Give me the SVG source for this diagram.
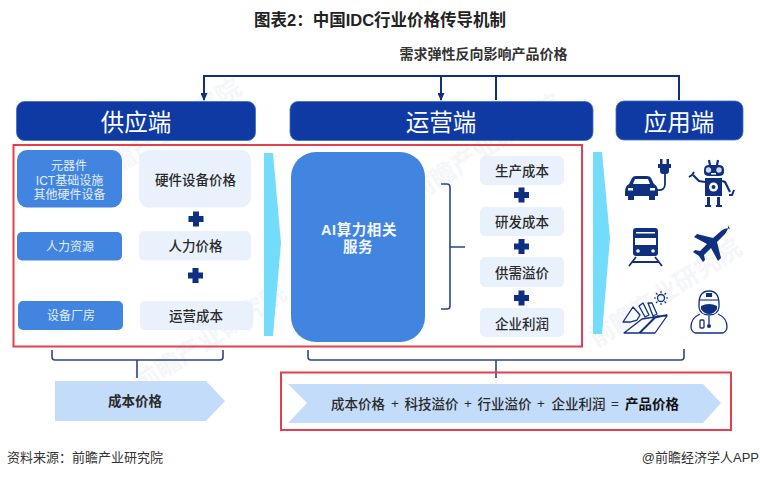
<svg xmlns="http://www.w3.org/2000/svg" width="760" height="478" viewBox="0 0 760 478">
<style>
text{font-family:"Liberation Sans","Noto Sans CJK SC",sans-serif;text-anchor:middle}
.hdr{fill:#0f3aa4;stroke:#3f6fc4;stroke-width:.8}
.hdrt{fill:#fff;font-size:23.5px}
.bb{fill:#4285e0}
.bt{fill:#e3eefb;font-size:12px}
.lb{fill:#e9f1fc}
.lt{fill:#2a2a2a;font-size:13.5px;font-weight:500}
.red{fill:none;stroke:#e2404e;stroke-width:2}
.con{fill:none;stroke:#0f2f80;stroke-width:2}
.brk{fill:none;stroke:#27468f;stroke-width:1.6}
.cy{fill:#74dcfb}
.pl{fill:#0f2f80}
.pale{fill:#c3dcfa}
.ic{fill:#0f2f80}
.ico{fill:none;stroke:#0f2f80;stroke-width:1.3;stroke-linejoin:round}
.eq{fill:#2a2a2a;font-size:13.5px;font-weight:500}
.wm{fill:#b9c3d0;opacity:.14;font-size:25px;font-weight:700}
</style>
<defs>
<marker id="ah" markerWidth="8" markerHeight="7" refX="7" refY="3.5" orient="auto" markerUnits="userSpaceOnUse"><path d="M0 0L8 3.5L0 7z" fill="#0f2f80"/></marker>
<path id="plus" d="M-3-7.5h6v4.500h4.500v6h-4.500v4.500h-6v-4.500h-4.500v-6h4.500z"/>
</defs>
<rect width="760" height="478" fill="#fff"/>

<g id="watermarks">
<text class="wm" transform="translate(215 345) rotate(-33)">前瞻产业研究院</text>
<text class="wm" transform="translate(490 155) rotate(-33)">前瞻产业研究院</text>
<text class="wm" transform="translate(670 300) rotate(-33)">前瞻产业研究院</text>
<text class="wm" transform="translate(170 140) rotate(-33)">前瞻产业研究院</text>
</g>

<text id="title" x="380" y="26" style="font-size:16.5px;font-weight:700;fill:#222">图表2：中国IDC行业价格传导机制</text>
<text id="feedback-label" x="483.500" y="59" style="font-size:14px;font-weight:700;fill:#333">需求弹性反向影响产品价格</text>

<g id="connectors">
<path class="con" d="M679 100V76H204V100" marker-end="url(#ah)"/>
<path class="con" d="M441 76V100" marker-end="url(#ah)"/>
<path class="con" d="M496 76V100"/>
<path class="brk" d="M52 350v7q0 3 3 3H220q3 0 3-3v-7M137 360v18"/>
<path class="brk" d="M308 350v7q0 3 3 3H681q3 0 3-3v-8M496 360v18"/>
<path class="brk" d="M441 184h6q3 0 3 3V306q0 3-3 3h-6M450 247h15"/>
</g>

<g id="supply-header"><rect class="hdr" x="16.500" y="101.500" width="239" height="39" rx="8"/><text class="hdrt" x="136" y="131">供应端</text></g>
<g id="ops-header"><rect class="hdr" x="290" y="101.500" width="303" height="39" rx="8"/><text class="hdrt" x="441" y="131">运营端</text></g>
<g id="app-header"><rect class="hdr" x="616" y="101" width="127" height="39" rx="8"/><text class="hdrt" x="679" y="131">应用端</text></g>

<rect id="red-frame-top" class="red" x="13.500" y="145" width="568.500" height="201.500"/>
<rect id="red-frame-bottom" class="red" x="281" y="372.500" width="450" height="57.500"/>

<g id="component-box"><rect class="bb" x="17" y="150" width="105" height="57.500" rx="10"/>
<text class="bt" x="69" y="170">元器件</text><text class="bt" x="69.500" y="185">ICT基础设施</text><text class="bt" x="69.500" y="199">其他硬件设备</text></g>
<g id="labor-box"><rect class="bb" x="17" y="232" width="105" height="28.500" rx="5"/><text class="bt" x="70" y="251">人力资源</text></g>
<g id="plant-box"><rect class="bb" x="18" y="301" width="105" height="29" rx="5"/><text class="bt" x="71" y="320">设备厂房</text></g>

<g id="hw-price"><rect class="lb" x="139" y="150" width="112" height="57.500" rx="10"/><text class="lt" x="195.500" y="185">硬件设备价格</text></g>
<g id="labor-price"><rect class="lb" x="139" y="231" width="112" height="29.500" rx="5"/><text class="lt" x="195.500" y="251">人力价格</text></g>
<g id="opex"><rect class="lb" x="140" y="301" width="113" height="29" rx="5"/><text class="lt" x="196" y="321">运营成本</text></g>
<use href="#plus" class="pl" x="196" y="219"/>
<use href="#plus" class="pl" x="195.500" y="275.500"/>

<path id="arrow-1" class="cy" d="M264 153H273L281 243L273 336H264z"/>
<path id="arrow-2" class="cy" d="M593 152H602L610 238L602 334H593z"/>

<g id="ai-service"><rect class="bb" x="291" y="152" width="134" height="190" rx="25"/>
<text x="359" y="235" style="fill:#f2f6fd;font-size:14.500px;font-weight:700;letter-spacing:.6px">AI算力相关</text><text x="358" y="252" style="fill:#f2f6fd;font-size:14.500px;font-weight:700;letter-spacing:.6px">服务</text></g>

<g id="prod-cost"><rect class="lb" x="480" y="156" width="84" height="29" rx="5"/><text class="lt" x="522" y="176">生产成本</text></g>
<g id="rd-cost"><rect class="lb" x="480" y="207" width="84" height="29" rx="5"/><text class="lt" x="522" y="227">研发成本</text></g>
<g id="premium"><rect class="lb" x="480" y="257" width="84" height="30" rx="5"/><text class="lt" x="522" y="278">供需溢价</text></g>
<g id="profit"><rect class="lb" x="480" y="308" width="84" height="29" rx="5"/><text class="lt" x="522" y="329">企业利润</text></g>
<use href="#plus" class="pl" x="521.500" y="195"/>
<use href="#plus" class="pl" x="521.500" y="246.500"/>
<use href="#plus" class="pl" x="521.500" y="298"/>

<g id="icon-car">
<path class="ic" d="M625 192q0-6 4-8l3-6q1-2 4-2h11q3 0 4 2l3 6q4 2 4 8v4h-3v4h-6v-4h-15v4h-6v-4h-3z"/>
<path d="M633 184l2-5h13l2 5z" fill="#fff"/><rect x="628" y="188" width="5" height="2.500" fill="#fff"/><rect x="650" y="188" width="5" height="2.500" fill="#fff"/>
<path d="M657 190q8 1 8-6v-10" fill="none" stroke="#0f2f80" stroke-width="1.800"/>
<path class="ic" d="M660 159h2.500v5h4v-5h2.500v5h2v4h-2v3q0 3-3 3h-3q-3 0-3-3v-3h-2v-4h2z"/>
</g>
<g id="icon-robot">
<path class="ic" d="M704 170q0-5 5-5h10q5 0 5 5v2q0 4-5 4h-10q-5 0-5-4zM705 178h17v18h-17zM707 197h3v8h-3zM717 197h3v8h-3zM705 205h6v2h-6zM716 205h6v2h-6z"/>
<circle cx="708.500" cy="170" r="2.700" fill="#cfdaf0"/><circle cx="719" cy="170" r="2.700" fill="#cfdaf0"/><rect x="711" y="173" width="5" height="1.500" fill="#fff"/>
<circle cx="713.500" cy="187" r="4.500" fill="#fff"/><circle cx="713.500" cy="187" r="2" class="ic"/>
<path d="M710 165l-1-5M717 165l1-5M705 182l-6-1-6-6M722 181l3 1 5 10" fill="none" stroke="#0f2f80" stroke-width="2.200"/>
<path d="M689 177l3-2 2-3M734 190l-2 5-3 0" fill="none" stroke="#0f2f80" stroke-width="2"/>
</g>
<g id="icon-train">
<path class="ic" d="M633 231q0-3 3-3h19q3 0 3 3v22q0 3-3 3h-19q-3 0-3-3z"/>
<rect x="636" y="232" width="19" height="1.500" fill="#fff"/><rect x="635" y="238" width="21" height="7" fill="#fff"/>
<circle cx="638" cy="251" r="1.800" fill="#fff"/><circle cx="653" cy="251" r="1.800" fill="#fff"/>
<path d="M636 257l-7 9M655 257l7 9M632 262h27" fill="none" stroke="#0f2f80" stroke-width="1.800"/>
</g>
<g id="icon-plane">
<path class="ic" d="M730 229q-4-2-9 2l-8 7-16-4-3 3 13 7-7 7-5-1-2 2 6 4 4 6 2-2-1-5 7-7 7 13 3-3-4-16 8-8q4-5 3-9z"/>
</g>
<g id="icon-road">
<circle cx="661" cy="298" r="3.500" class="ico"/>
<path d="M661 291v2M661 303v2M654 298h2M666 298h2M656 293l1.500 1.500M664.500 301.500l1.500 1.500M666 293l-1.500 1.500M656 303l1.500-1.500" stroke="#0f2f80" stroke-width="1.100" fill="none"/>
<path class="ico" d="M623 322l10-15 7 8-3 5-7 2zM639 306l4-3 6 12-4 2zM648 303l4 0 5 11-4 2zM624 333l18-14 25-4-13 3-15 15zM640 333l17-17 10 0-12 17z"/>
</g>
<g id="icon-doctor">
<path class="ico" d="M699 304q0-13 10-13t10 13v3q-1 8-10 8t-10-8z"/>
<path class="ic" d="M701 306q4-2 8-2t8 2v3q-3 5-8 5t-8-5z"/>
<path class="ic" d="M706 293h6v4h-6z"/>
<path d="M699 300h20" stroke="#0f2f80" stroke-width="1.100"/>
<path class="ico" d="M700 314q-9 4-9 13 0 4 4 6h28q4-2 4-6 0-9-9-13M709 316v8"/>
<rect x="700" y="320" width="4" height="8" rx="1" class="ico"/><circle cx="709" cy="326" r="2" class="ic"/>
</g>

<g id="cost-price"><path class="pale" d="M55 381H206L225 401L206 421H55z"/><text x="135" y="406" style="fill:#2a2a2a;font-size:13.500px;font-weight:700">成本价格</text></g>
<g id="product-price"><path class="pale" d="M288 384H703L721 403L703 423H288L307 403z"/>
<text class="eq" x="358" y="408.500">成本价格</text><text class="eq" x="395" y="408">+</text>
<text class="eq" x="431.500" y="408.500">科技溢价</text><text class="eq" x="468" y="408">+</text>
<text class="eq" x="504.500" y="408.500">行业溢价</text><text class="eq" x="541" y="408">+</text>
<text class="eq" x="578.500" y="408.500">企业利润</text><text class="eq" x="615" y="408">=</text>
<text class="eq" x="652" y="408.500" style="font-weight:700;fill:#111">产品价格</text></g>

<text id="source" x="7" y="462" style="text-anchor:start;font-size:13px;fill:#333">资料来源：前瞻产业研究院</text>
<text id="brand" x="759" y="462" style="text-anchor:end;font-size:13px;fill:#333">@前瞻经济学人APP</text>
</svg>
